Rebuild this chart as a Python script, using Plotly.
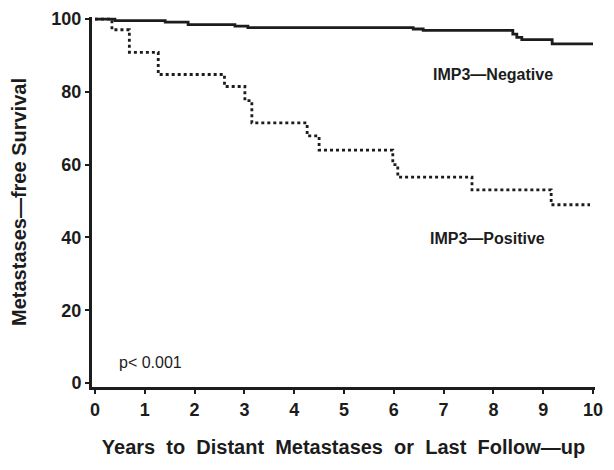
import plotly.graph_objects as go

# IMP3-Negative (solid) Kaplan-Meier steps
neg_years = [0, 0.40, 1.41, 1.87, 2.81, 3.07, 6.39, 6.59, 8.39, 8.47, 8.57, 9.18, 10.0]
neg_surv = [100, 99.6, 99.2, 98.5, 98.1, 97.7, 97.3, 96.9, 95.9, 95.0, 94.4, 93.2, 93.2]

# IMP3-Positive (dotted) Kaplan-Meier steps
pos_years = [0, 0.34, 0.69, 1.27, 2.60, 3.01, 3.15, 4.26, 4.50, 5.98, 6.08, 7.57, 9.16, 9.94]
pos_surv = [100, 97.1, 90.9, 84.8, 81.5, 77.6, 71.5, 67.9, 64.0, 60.0, 56.6, 53.1, 49.0, 49.0]

x_ticks = [0, 1, 2, 3, 4, 5, 6, 7, 8, 9, 10]
y_ticks = [0, 20, 40, 60, 80, 100]

ink = "#1c1c1c"
font_family = "Liberation Sans, Arial, sans-serif"

fig = go.Figure()
fig.add_trace(go.Scatter(x=neg_years, y=neg_surv, mode="lines", line_shape="hv",
                         line=dict(color=ink, width=2.8), name="IMP3—Negative",
                         showlegend=False))
fig.add_trace(go.Scatter(x=pos_years, y=pos_surv, mode="lines", line_shape="hv",
                         line=dict(color=ink, width=2.8, dash="3px,3px"), name="IMP3—Positive",
                         showlegend=False))

fig.add_annotation(x=7.99, y=84.7, text="IMP3—Negative", showarrow=False,
                   font=dict(family=font_family, size=16, color=ink, weight="bold"))
fig.add_annotation(x=7.89, y=39.8, text="IMP3—Positive", showarrow=False,
                   font=dict(family=font_family, size=16, color=ink, weight="bold"))
fig.add_annotation(x=1.12, y=5.6, text="p< 0.001", showarrow=False,
                   font=dict(family=font_family, size=16, color=ink))

fig.update_layout(
    width=614, height=470,
    margin=dict(l=84, r=27, t=9, b=91),
    paper_bgcolor="white", plot_bgcolor="white",
    font=dict(family=font_family, color=ink),
    showlegend=False,
    xaxis=dict(
        range=[-0.06, 10.04], tickvals=x_ticks, ticktext=[str(v) for v in x_ticks],
        automargin=False,
        showgrid=False, zeroline=False, showline=True, linecolor=ink, linewidth=3,
        ticks="outside", ticklen=4, tickwidth=1.5, tickcolor=ink,
        tickfont=dict(size=18, weight="bold", color=ink), ticklabeloverflow="allow",
        title=dict(text="Years  to  Distant  Metastases  or  Last  Follow—up",
                   font=dict(size=20, weight="bold", color=ink), standoff=22),
    ),
    yaxis=dict(
        range=[-1.1, 100.6], tickvals=y_ticks, ticktext=[str(v) for v in y_ticks],
        automargin=False,
        showgrid=False, zeroline=False, showline=True, linecolor=ink, linewidth=3,
        ticks="outside", ticklen=4, tickwidth=1.5, tickcolor=ink,
        tickfont=dict(size=18, weight="bold", color=ink), ticklabeloverflow="allow",
        title=dict(text="Metastases—free Survival",
                   font=dict(size=20, weight="bold", color=ink), standoff=34),
    ),
)

fig.write_html("out.html")
